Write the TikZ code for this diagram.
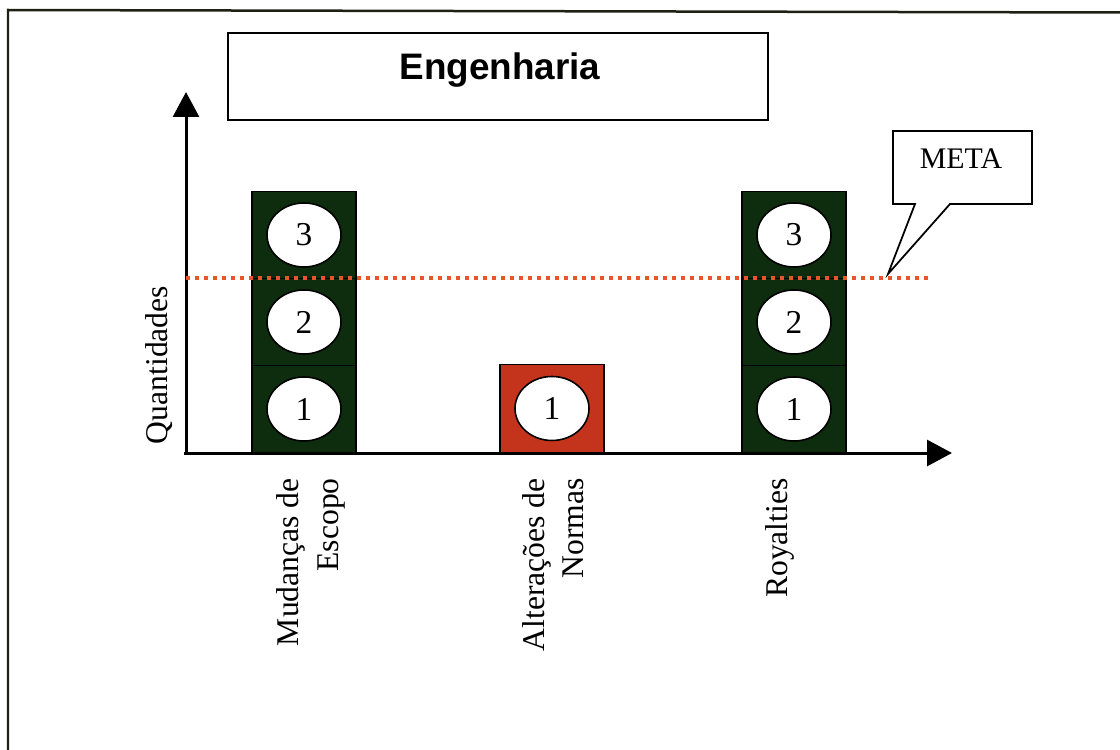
\documentclass[tikz,border=0pt]{standalone}
\usepackage{fontspec}
\setmainfont{Liberation Serif}
\newfontfamily\titlefont{Liberation Sans}
\usetikzlibrary{arrows.meta,shapes.geometric}
\definecolor{bargreen}{RGB}{14,44,14}
\definecolor{barred}{RGB}{196,52,28}
\definecolor{metaline}{RGB}{232,84,44}
\definecolor{framecol}{RGB}{30,32,20}
\begin{document}
\begin{tikzpicture}[x=0.02cm,y=-0.02cm,
  axis/.style={line width=0.06cm,-{Triangle[length=0.5cm,width=0.52cm]}},
  seg/.style={draw=black,line width=0.6pt,minimum width=2.08cm,minimum height=1.74cm,inner sep=0pt,anchor=south},
  greenseg/.style={seg,fill=bargreen},
  redseg/.style={seg,fill=barred,minimum height=1.76cm},
  count/.style={ellipse,draw=black,line width=0.9pt,fill=white,minimum width=1.48cm,minimum height=1.28cm,inner sep=0pt,font=\fontsize{19}{22}\selectfont},
  cat/.style={rotate=90,anchor=east,align=right,inner sep=0pt,font=\fontsize{18}{22.5}\selectfont},
  goal/.style={metaline,line width=0.08cm,dash pattern=on 0.08cm off 0.1cm}]
\useasboundingbox (0,0) rectangle (1120,750);

% outer frame (top and left edges)
\draw[framecol,line width=0.05cm] (8,750) -- (8,10) -- (1120,12.5);

% title
\node (title) [draw,line width=1.1pt,minimum width=10.8cm,minimum height=1.74cm,inner sep=0pt] at (498,76.5) {};
\node (titletext) [anchor=base,inner sep=0pt,font=\titlefont\bfseries\fontsize{21}{25}\selectfont] at (500,80) {Engenharia};

% bars: Mudanças de Escopo
\node (m1) [greenseg] at (304,453) {};
\node (m2) [greenseg] at (304,366) {};
\node (m3) [greenseg] at (304,279) {};
\node (m1c) [count] at (m1.center) {1};
\node (m2c) [count] at (m2.center) {2};
\node (m3c) [count] at (m3.center) {3};

% bars: Alterações de Normas
\node (a1) [redseg] at (552,453) {};
\node (a1c) [count] at (a1.center) {1};

% bars: Royalties
\node (r1) [greenseg] at (794,453) {};
\node (r2) [greenseg] at (794,366) {};
\node (r3) [greenseg] at (794,279) {};
\node (r1c) [count] at (r1.center) {1};
\node (r2c) [count] at (r2.center) {2};
\node (r3c) [count] at (r3.center) {3};

% axes
\coordinate (O) at (186,454);
\coordinate (ytip) at (186,92);
\coordinate (xtip) at (952,453);
\draw[axis] (O) -- (ytip);
\draw[axis] (184,453) -- (xtip);

% goal line
\coordinate (goalstart) at (186,278);
\coordinate (goalend) at (930,278);
\draw[goal] (goalstart) -- (goalend);

% META callout
\coordinate (pointer) at (888,274);
\draw[line width=1pt,fill=white] (893,131) -- (1032,131) -- (1032,204) -- (950,204) -- (pointer) -- (915,204) -- (893,204) -- cycle;
\node (meta) [anchor=base,inner sep=0pt,font=\fontsize{17}{20}\selectfont] at (961,169) {META};

% axis and category labels
\node (ylabel) [rotate=90,inner sep=0pt,font=\fontsize{18}{21}\selectfont] at (159,365) {Quantidades};
\node (catm) [cat] at (311,478) {Mudanças de\\Escopo};
\node (cata) [cat] at (553,478) {Alterações de\\Normas};
\node (catr) [cat] at (780,478) {Royalties};
\end{tikzpicture}
\end{document}
